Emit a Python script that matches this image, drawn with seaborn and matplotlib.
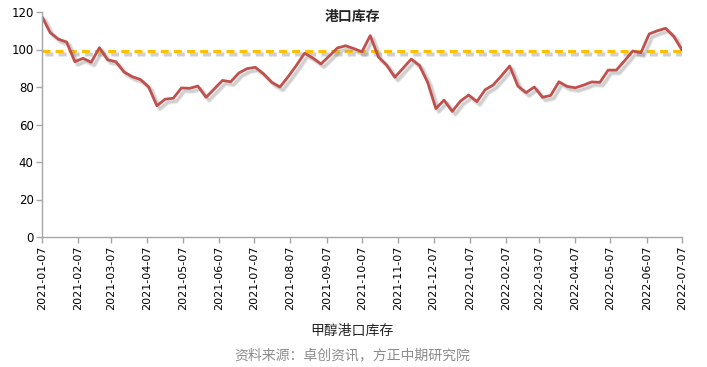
import numpy as np
import pandas as pd
import matplotlib
matplotlib.use("Agg")
import matplotlib.pyplot as plt
import matplotlib.patheffects as pe
import seaborn as sns

start_date = "2021-01-07"
n_weeks = 79
inventory = [117.5, 109, 105.5, 104, 93.5, 95.3, 93.2, 101, 94.5, 93.5,
             88, 85.5, 84, 80, 70, 73.5, 74, 79.5, 79.3, 80.5,
             74.5, 79, 83.5, 82.8, 87.5, 89.8, 90.5, 87, 82.5, 80,
             85.5, 91.5, 98, 95.5, 92.3, 96.5, 100.8, 102, 100.5, 98.8,
             107.4, 96, 91.7, 85.2, 90, 94.9, 91.5, 82.5, 68.5, 73,
             67, 72.5, 75.7, 72.2, 78.5, 81.1, 86, 91.2, 80.5, 77,
             80, 74.5, 75.5, 82.8, 80.3, 79.6, 81, 82.7, 82.5, 89,
             89, 94, 99.2, 98.3, 108.3, 110, 111.3, 107, 99.7]
avg_level = 99.2
tick_dates = [f"{y}-{m:02d}-07" for y, m in
              [(2021, m) for m in range(1, 13)] + [(2022, m) for m in range(1, 8)]]
y_ticks = [0, 20, 40, 60, 80, 100, 120]

title = "港口库存"
xlabel = "甲醇港口库存"
source = "资料来源：卓创资讯，方正中期研究院"

dates = pd.date_range(start_date, periods=n_weeks, freq="7D")
df = pd.DataFrame({"date": dates, "value": inventory, "avg": [avg_level] * n_weeks})

sns.set_theme(style="white")
plt.rcParams["font.family"] = ["DejaVu Sans", "Noto Sans CJK SC"]

fig = plt.figure(figsize=(7.07, 3.67), dpi=100)
ax = fig.add_axes([42 / 707, 1 - 237 / 367, (682 - 42) / 707, (237 - 12) / 367])

def shadow(lw):
    return [pe.SimpleLineShadow(offset=(2.2, -2.2), shadow_color="#999999", alpha=0.22,
                                linewidth=lw + 1.5),
            pe.SimpleLineShadow(offset=(2.2, -2.2), shadow_color="#888888", alpha=0.25),
            pe.Normal()]

sns.lineplot(data=df, x="date", y="avg", ax=ax, color="#FFC000", linewidth=2.2,
             path_effects=shadow(2.2))
ax.lines[-1].set_dashes([2.6, 1.7])
sns.lineplot(data=df, x="date", y="value", ax=ax, color="#C0504D", linewidth=2.0,
             path_effects=shadow(2.0))
for ln in ax.lines:
    ln.set_solid_joinstyle("round")
    ln.set_solid_capstyle("round")

ax.set_xlim(pd.Timestamp(start_date), pd.Timestamp(tick_dates[-1]))
ax.set_ylim(0, 120)
ax.set_yticks(y_ticks)
ax.set_yticklabels([str(v) for v in y_ticks], fontsize=8.5, color="black")
ax.set_xticks([pd.Timestamp(d) for d in tick_dates])
ax.set_xticklabels(tick_dates, rotation=90, fontsize=8, color="black")
ax.set_xlabel("")
ax.set_ylabel("")

for s in ["top", "right"]:
    ax.spines[s].set_visible(False)
for s in ["left", "bottom"]:
    ax.spines[s].set_color("#a6a6a6")
    ax.spines[s].set_linewidth(1.0)
ax.tick_params(axis="both", which="major", length=4, width=1, color="#a6a6a6",
               direction="out", pad=2, left=True, bottom=True)

fig.text(352 / 707, 1 - 17 / 367, title, ha="center", va="center", fontsize=10,
         fontweight="bold", family=["Noto Sans CJK SC", "DejaVu Sans"])
fig.text(352 / 707, 1 - 331 / 367, xlabel, ha="center", va="center", fontsize=10,
         family=["Noto Sans CJK SC", "DejaVu Sans"])
fig.text(352 / 707, 1 - 355 / 367, source, ha="center", va="center", fontsize=10,
         color="#8c8c8c", family=["Noto Sans CJK SC", "DejaVu Sans"])

fig.savefig("out.png", dpi=100)
